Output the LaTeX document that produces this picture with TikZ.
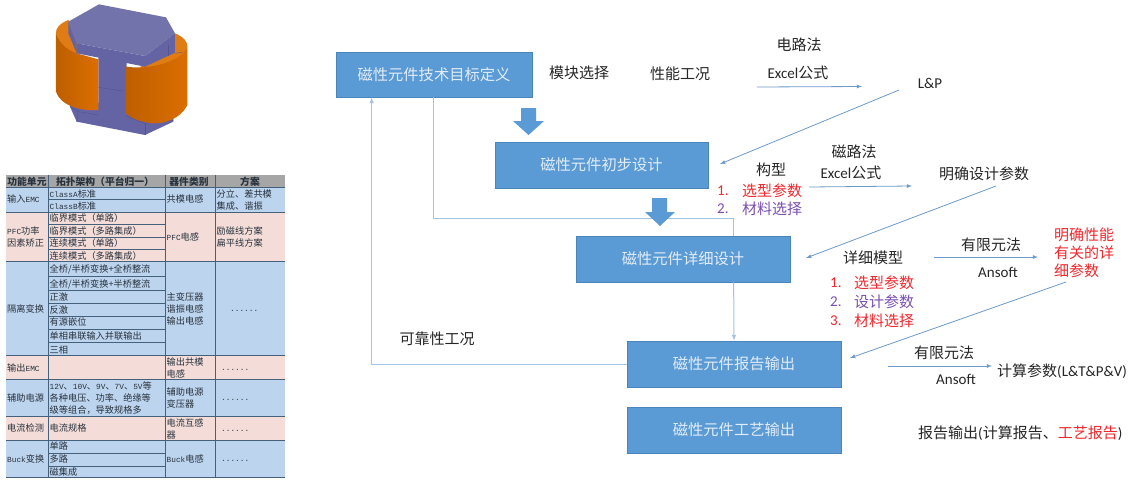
\documentclass[tikz,border=0pt]{standalone}
\usepackage{fontspec}
\setmainfont{Noto Sans CJK SC}
\newfontfamily\enfont{Carlito}
\newfontfamily\tabfont{Liberation Mono}
\usetikzlibrary{calc}

\definecolor{boxblue}{HTML}{5B9BD5}
\definecolor{boxedge}{HTML}{4A86BC}
\definecolor{linklight}{HTML}{A5C4E4}
\definecolor{linkblue}{HTML}{6C9BCB}
\definecolor{boxtext}{HTML}{E2ECF7}
\definecolor{listred}{HTML}{F0282D}
\definecolor{listviolet}{HTML}{7B4FB0}
\definecolor{rowblue}{HTML}{BDD4EE}
\definecolor{rowpink}{HTML}{F4DDD8}
\definecolor{rowgray}{HTML}{A6A6A6}
\definecolor{rowline}{HTML}{44607A}
\definecolor{tabtext}{HTML}{27323D}
\definecolor{coretop}{HTML}{7373AB}
\definecolor{coreside}{HTML}{6464A4}
\definecolor{coredark}{HTML}{56568F}
\definecolor{coilcap}{HTML}{E07C14}
\definecolor{coillight}{HTML}{DC6E00}
\definecolor{coildark}{HTML}{BE5F00}

\newcommand{\en}[1]{{\enfont #1}}
\newcommand{\tb}[1]{{\tabfont\fontsize{7.8}{9}\selectfont #1}}

\begin{document}
\begin{tikzpicture}[x=1pt, y=-1pt]
    \tikzstyle{stepbox} = [rectangle, fill=boxblue, draw=boxedge, line width=.7pt,
        text=boxtext, font=\fontsize{15.3}{18}\selectfont, inner sep=0pt]
    \tikzstyle{label} = [text=black!85, font=\fontsize{15}{18}\selectfont, inner sep=0pt]
    \tikzstyle{redlabel} = [label, text=listred]
    \tikzstyle{violetlabel} = [label, text=listviolet]
    \tikzstyle{thinlink} = [draw=linkblue, line width=.8pt, -latex]
    \tikzstyle{widelink} = [draw=linklight, line width=1pt]
    \tikzstyle{blockarrow} = [fill=boxblue, draw=none]
    \tikzstyle{cell} = [anchor=west, text=tabtext, inner sep=0pt,
        font=\fontsize{9.2}{11}\selectfont]
    \tikzstyle{head} = [text=tabtext, inner sep=0pt, font=\fontsize{9.8}{11}\bfseries\selectfont]
    \tikzstyle{coil} = [left color=coildark, middle color=coillight, right color=coillight]

    \useasboundingbox (0, 0) rectangle (1146, 480);
    \fill[white] (0, 0) rectangle (1146, 480);

    % Core ----------------------------------------------
    \begin{scope}[shift={(30, 0)}, x=.3333pt, y=-.3333pt]
        % coil caps
        \fill[coilcap] (115, 60) .. controls (90, 70) and (76, 85) .. (78, 100)
            .. controls (90, 130) and (110, 150) .. (140, 165) -- (160, 140) -- cycle;
        \fill[coilcap] (435, 100) .. controls (460, 110) and (473, 125) .. (472, 140)
            .. controls (450, 190) and (350, 210) .. (330, 205) -- (345, 170) -- cycle;
        \draw[coredark, line width=.3pt] (435, 160) -- (470, 155);
        % bottom plate
        \fill[coreside] (120, 320) -- (120, 300) -- (430, 330) -- (430, 365)
            -- (345, 405) -- (140, 365) -- cycle;
        \draw[coredark, line width=.5pt] (345, 370) -- (345, 405);
        \draw[coredark, line width=.5pt] (285, 347) -- (345, 370) -- (430, 362);
        \draw[coredark, line width=.5pt] (120, 320) -- (145, 335) -- (205, 345);
        \draw[coredark, line width=.5pt] (145, 335) -- (140, 365);
        % post
        \fill[coreside] (205, 150) -- (290, 170) -- (290, 350) -- (205, 340) -- cycle;
        \draw[coredark, line width=.5pt] (205, 262) -- (280, 273);
        % left coil
        \path[coil] (78, 100) .. controls (90, 130) and (110, 150) .. (140, 160)
            -- (205, 178) -- (205, 330)
            .. controls (150, 335) and (90, 315) .. (78, 275) -- cycle;
        % right coil
        \path[coil] (290, 200) .. controls (350, 210) and (450, 190) .. (472, 140)
            -- (472, 315)
            .. controls (450, 360) and (390, 380) .. (340, 365)
            .. controls (315, 360) and (300, 350) .. (290, 342) -- cycle;
        % top plate
        \fill[coreside] (115, 65) -- (140, 130) -- (140, 160) -- (115, 100) -- cycle;
        \fill[coreside] (140, 130) -- (345, 168) -- (345, 200) -- (140, 160) -- cycle;
        \fill[coreside] (345, 168) -- (435, 100) -- (435, 158) -- (345, 200) -- cycle;
        \draw[coredark, line width=.3pt] (415, 135) -- (415, 168);
        \fill[coretop] (207, 13) -- (408, 52) -- (435, 100) -- (345, 168)
            -- (140, 130) -- (115, 65) -- cycle;
    \end{scope}
    % ---------------------------------------------------

    % Table ---------------------------------------------
    \fill[rowgray] (6, 175) rectangle (285, 187);
    \fill[rowblue] (6, 187) rectangle (285, 212);
    \fill[rowpink] (6, 212) rectangle (285, 261);
    \fill[rowblue] (6, 261) rectangle (285, 355);
    \fill[rowpink] (6, 355) rectangle (285, 379);
    \fill[rowblue] (6, 379) rectangle (285, 416);
    \fill[rowpink] (6, 416) rectangle (285, 440);
    \fill[rowblue] (6, 440) rectangle (285, 477);

    \foreach \ypos in {187, 212, 261, 355, 379, 416, 440, 477}
        \draw[rowline, line width=.6pt] (6, \ypos) -- (285, \ypos);
    \foreach \ypos in {199, 224, 237, 249, 276, 290, 303, 316, 329, 342, 453, 466}
        \draw[rowline, line width=.6pt] (48, \ypos) -- (165, \ypos);
    \foreach \xpos in {48, 165, 215}
        \draw[rowline, line width=.6pt] (\xpos, 175) -- (\xpos, 477);

    \node (h1) at (27, 182) [head] {功能单元};
    \node (h2) at (105, 182) [head] {拓扑架构（平台归一）};
    \node (h3) at (189, 182) [head] {器件类别};
    \node (h4) at (250, 182) [head] {方案};

    \node (u1) at (7, 199) [cell] {输入\tb{EMC}};
    \node (u2) at (7, 231) [cell] {\tb{PFC}功率};
    \node (u3) at (7, 243) [cell] {因素矫正};
    \node (u4) at (7, 309) [cell] {隔离变换};
    \node (u5) at (7, 368) [cell] {输出\tb{EMC}};
    \node (u6) at (7, 398) [cell] {辅助电源};
    \node (u7) at (7, 428) [cell] {电流检测};
    \node (u8) at (7, 459) [cell] {\tb{Buck}变换};

    \node (t1) at (49.5, 194) [cell] {\tb{ClassA}标准};
    \node (t2) at (49.5, 206) [cell] {\tb{ClassB}标准};
    \node (t3) at (49.5, 218) [cell] {临界模式（单路）};
    \node (t4) at (49.5, 231) [cell] {临界模式（多路集成）};
    \node (t5) at (49.5, 243) [cell] {连续模式（单路）};
    \node (t6) at (49.5, 256) [cell] {连续模式（多路集成）};
    \node (t7) at (49.5, 269) [cell] {全桥/半桥变换+全桥整流};
    \node (t8) at (49.5, 284) [cell] {全桥/半桥变换+半桥整流};
    \node (t9) at (49.5, 297) [cell] {正激};
    \node (t10) at (49.5, 310) [cell] {反激};
    \node (t11) at (49.5, 322) [cell] {有源嵌位};
    \node (t12) at (49.5, 336) [cell] {单相串联输入并联输出};
    \node (t13) at (49.5, 350) [cell] {三相};
    \node (t14) at (49.5, 386) [cell] {\tb{12V}、\tb{10V}、\tb{9V}、\tb{7V}、\tb{5V}等};
    \node (t15) at (49.5, 398) [cell] {各种电压、功率、绝缘等};
    \node (t16) at (49.5, 410) [cell] {级等组合，导致规格多};
    \node (t17) at (49.5, 428) [cell] {电流规格};
    \node (t18) at (49.5, 446) [cell] {单路};
    \node (t19) at (49.5, 459) [cell] {多路};
    \node (t20) at (49.5, 472) [cell] {磁集成};

    \node (d1) at (166.5, 199) [cell] {共模电感};
    \node (d2) at (166.5, 237) [cell] {\tb{PFC}电感};
    \node (d3) at (166.5, 297) [cell] {主变压器};
    \node (d4) at (166.5, 309) [cell] {谐振电感};
    \node (d5) at (166.5, 321) [cell] {输出电感};
    \node (d6) at (166.5, 362) [cell] {输出共模};
    \node (d7) at (166.5, 374) [cell] {电感};
    \node (d8) at (166.5, 392) [cell] {辅助电源};
    \node (d9) at (166.5, 404) [cell] {变压器};
    \node (d10) at (166.5, 423) [cell] {电流互感};
    \node (d11) at (166.5, 435) [cell] {器};
    \node (d12) at (166.5, 459) [cell] {\tb{Buck}电感};

    \node (s1) at (216.5, 194) [cell] {分立、差共模};
    \node (s2) at (216.5, 206) [cell] {集成、谐振};
    \node (s3) at (216.5, 231) [cell] {励磁线方案};
    \node (s4) at (216.5, 243) [cell] {扁平线方案};
    \node (s5) at (230, 311) [cell] {\tb{......}};
    \node (s6) at (221, 370) [cell] {\tb{......}};
    \node (s7) at (221, 400) [cell] {\tb{......}};
    \node (s8) at (221, 431) [cell] {\tb{......}};
    \node (s9) at (221, 461) [cell] {\tb{......}};
    % ---------------------------------------------------

    % Steps
    \node (target) at (434, 74.5) [stepbox, minimum width=196pt, minimum height=45pt] {磁性元件技术目标定义};
    \node (prelim) at (601.5, 165) [stepbox, minimum width=213pt, minimum height=46pt] {磁性元件初步设计};
    \node (detail) at (683, 259) [stepbox, minimum width=214pt, minimum height=46pt] {磁性元件详细设计};
    \node (report) at (734, 364) [stepbox, minimum width=214pt, minimum height=46pt] {磁性元件报告输出};
    \node (craft) at (734, 430) [stepbox, minimum width=214pt, minimum height=46pt] {磁性元件工艺输出};

    % Feedback lines
    \coordinate (detailtop) at ($(detail.north west) + (158, 0)$);
    \coordinate (detailbot) at ($(detail.south west) + (158, 0)$);
    \draw[widelink] ($(target.south west) + (98, 0)$) |- ($(detailtop) + (0, -17)$) -- (detailtop);
    \draw[widelink, -latex] (detailbot) -- (report.north);
    \draw[widelink, -latex] (report.west) -| ($(target.south west) + (36, 0)$);

    % Block arrows
    \fill[blockarrow] (521, 108) -- (536, 108) -- (536, 121) -- (544, 121) -- (528.5, 135)
        -- (513, 121) -- (521, 121) -- cycle;
    \fill[blockarrow] (652, 198) -- (667, 198) -- (667, 212) -- (675, 212) -- (660, 226)
        -- (645, 212) -- (652, 212) -- cycle;

    % Labels --------------------------------------------
    \node (module) at (579, 73) [label] {模块选择};
    \node (perform) at (680, 74) [label] {性能工况};
    \node (circuit) at (799, 45) [label] {电路法};
    \node (excel1) at (798, 73) [label] {\en{Excel}公式};
    \node (lp) at (930, 83) [label] {\en{L\&P}};
    \node (magnet) at (854, 152) [label] {磁路法};
    \node (excel2) at (851, 173) [label] {\en{Excel}公式};
    \node (config) at (771, 170) [label] {构型};
    \node (params) at (984, 174) [label] {明确设计参数};
    \node (reliab) at (437, 339) [label] {可靠性工况};
    \node (model) at (873, 258) [label] {详细模型};
    \node (fem1) at (991, 245) [label] {有限元法};
    \node (ansoft1) at (998, 272) [label] {\en{Ansoft}};
    \node (fem2) at (944, 353) [label] {有限元法};
    \node (ansoft2) at (956, 379) [label] {\en{Ansoft}};
    \node (calc) at (997, 371) [label, anchor=west] {计算参数\en{(L\&T\&P\&V)}};
    \node (output) at (918, 433) [label, anchor=west] {报告输出\en{(}计算报告、\textcolor{listred}{工艺报告}\en{)}};

    \node (perf1) at (1054, 235) [redlabel, anchor=west] {明确性能};
    \node (perf2) at ($(perf1.west) + (0, 18)$) [redlabel, anchor=west] {有关的详};
    \node (perf3) at ($(perf2.west) + (0, 18)$) [redlabel, anchor=west] {细参数};

    \node (a1) at (717, 191) [redlabel, anchor=west] {\en{1.}};
    \node (a1t) at (742, 191) [redlabel, anchor=west] {选型参数};
    \node (a2) at (717, 209) [violetlabel, anchor=west] {\en{2.}};
    \node (a2t) at (742, 209) [violetlabel, anchor=west] {材料选择};

    \node (b1) at (830, 283) [redlabel, anchor=west] {\en{1.}};
    \node (b1t) at (854, 283) [redlabel, anchor=west] {选型参数};
    \node (b2) at (830, 302) [violetlabel, anchor=west] {\en{2.}};
    \node (b2t) at (854, 302) [violetlabel, anchor=west] {设计参数};
    \node (b3) at (830, 321) [redlabel, anchor=west] {\en{3.}};
    \node (b3t) at (854, 321) [redlabel, anchor=west] {材料选择};
    % ---------------------------------------------------

    % Thin arrows
    \coordinate (e1from) at (757, 87);
    \coordinate (e1to) at (862, 86.5);
    \coordinate (lpfrom) at (899, 90);
    \coordinate (lpto) at (720, 164);
    \coordinate (e2from) at (809, 187);
    \coordinate (e2to) at (912, 186);
    \coordinate (pfrom) at (996, 186);
    \coordinate (pto) at (806, 258);
    \coordinate (f1from) at (934, 257);
    \coordinate (f1to) at (1038, 257);
    \coordinate (rfrom) at (1066, 282);
    \coordinate (rto) at (850, 358);
    \coordinate (f2from) at (888, 366);
    \coordinate (f2to) at (992, 366);

    \draw[thinlink] (e1from) -- (e1to);
    \draw[thinlink] (lpfrom) -- (lpto);
    \draw[thinlink] (e2from) -- (e2to);
    \draw[thinlink] (pfrom) -- (pto);
    \draw[thinlink] (f1from) -- (f1to);
    \draw[thinlink] (rfrom) -- (rto);
    \draw[thinlink] (f2from) -- (f2to);
\end{tikzpicture}
\end{document}
